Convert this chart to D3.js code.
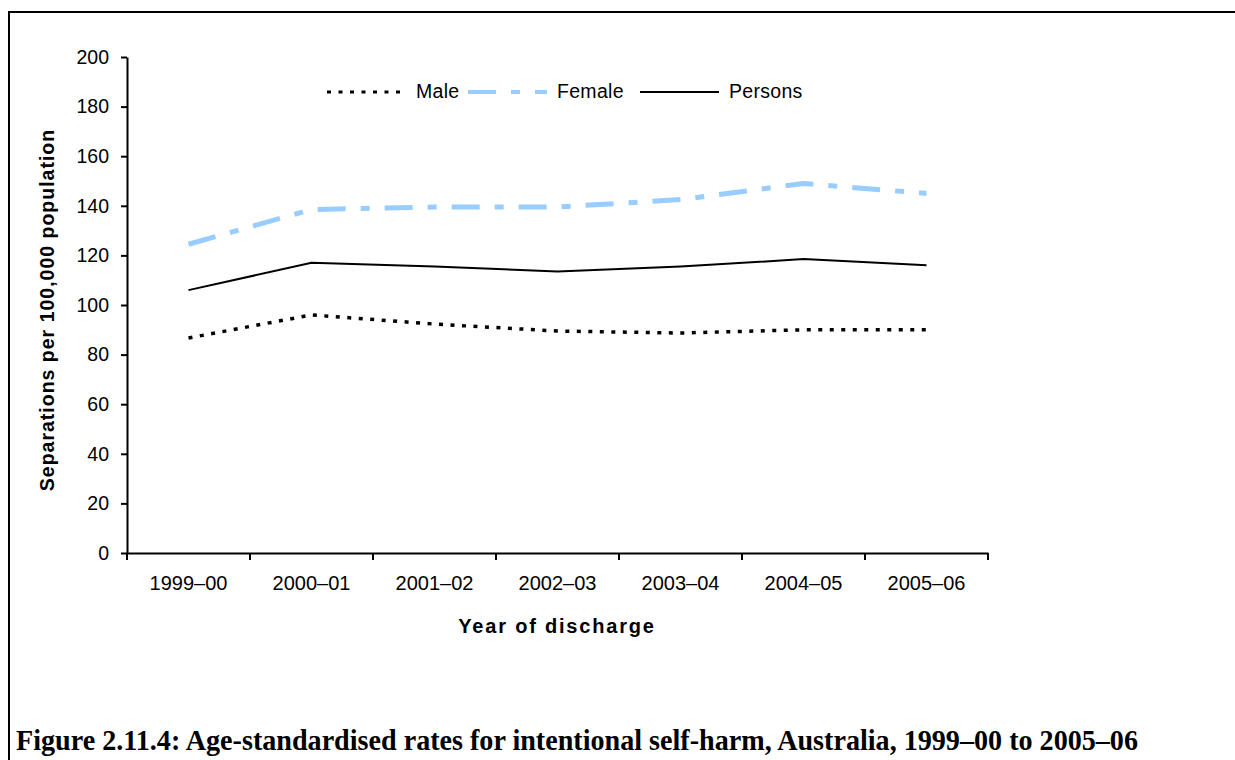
<!DOCTYPE html>
<html>
<head>
<meta charset="utf-8">
<script src="https://cdn.jsdelivr.net/npm/d3@7"></script>
<style>
  body { margin: 0; background: #fff; }
  text { font-family: "Liberation Sans", Arial, sans-serif; }
</style>
</head>
<body>
<div id="chart"></div>
<script>
const years = ['1999–00', '2000–01', '2001–02', '2002–03', '2003–04', '2004–05', '2005–06'];
const male = [86.7, 96, 92.3, 89.5, 88.7, 90, 90];
const female = [124.5, 138.5, 139.5, 139.5, 142.5, 149, 145];
const persons = [106, 117, 115.5, 113.5, 115.5, 118.5, 116];
const yTicks = [0, 20, 40, 60, 80, 100, 120, 140, 160, 180, 200];

const width = 1235;
const height = 760;

const svg = d3.select('#chart')
  .append('svg')
  .attr('width', width)
  .attr('height', height)

// frame round the figure (runs off the right and bottom)
svg.append('rect')
   .attr('x', 9)
   .attr('y', 12)
   .attr('width', 1300)
   .attr('height', 800)
   .style('fill', 'none')
   .style('stroke', '#000')
   .style('stroke-width', 2)

const xScale = d3.scaleBand()
                 .domain(years)
                 .range([127, 988])
                 .padding(0)

const yScale = d3.scaleLinear()
                 .domain([0, 200])
                 .range([553, 57])

const cx = (d, i) => xScale(years[i]) + xScale.bandwidth() / 2;

// y axis
const yAxis = d3.axisLeft(yScale).tickValues(yTicks).tickSize(6).tickPadding(12).tickSizeOuter(0);
const gy = svg.append('g')
   .attr('transform', 'translate(127, 0)')
   .call(yAxis)
gy.select('.domain').style('stroke-width', 2)
gy.selectAll('.tick line').style('stroke-width', 2)
gy.selectAll('.tick text').style('font-size', '19.5px').style('fill', '#000')

// x axis: labels centred in bands, ticks on band edges
const xAxis = d3.axisBottom(xScale).tickSize(0).tickPadding(23).tickSizeOuter(0);
const gx = svg.append('g')
   .attr('transform', 'translate(0, 553)')
   .call(xAxis)
gx.select('.domain').style('stroke-width', 2)
gx.selectAll('.tick text').style('font-size', '20px').style('fill', '#000')

const edges = years.map(y => xScale(y)).concat([xScale.range()[1]]);
gx.selectAll('.edge')
  .data(edges)
  .enter()
  .append('line')
  .attr('x1', d => d)
  .attr('x2', d => d)
  .attr('y1', 0)
  .attr('y2', 7)
  .style('stroke', '#000')
  .style('stroke-width', 2)

// axis titles
svg.append('text')
   .text('Year of discharge')
   .attr('x', 557)
   .attr('y', 633)
   .attr('text-anchor', 'middle')
   .style('font-size', '20px')
   .style('font-weight', 'bold')
   .style('letter-spacing', '1.8px')

svg.append('text')
   .text('Separations per 100,000 population')
   .attr('transform', 'translate(54, 310) rotate(-90)')
   .attr('text-anchor', 'middle')
   .style('font-size', '19.5px')
   .style('font-weight', 'bold')
   .style('letter-spacing', '1px')

// series
const series = [
  { name: 'Male', values: male, color: '#000', width: 3.5, dash: '4,7.5' },
  { name: 'Female', values: female, color: '#99ccff', width: 5, dash: '28,15,9,15' },
  { name: 'Persons', values: persons, color: '#000', width: 2, dash: null }
];

const line = d3.line()
  .x(cx)
  .y(d => yScale(d))

series.forEach(s => {
  svg.append('path')
     .datum(s.values)
     .attr('d', line)
     .style('fill', 'none')
     .style('stroke', s.color)
     .style('stroke-width', s.width)
     .style('stroke-dasharray', s.dash)
})

// legend
const legendX = [327, 468, 640];
series.forEach((s, i) => {
  svg.append('line')
     .attr('x1', legendX[i])
     .attr('x2', legendX[i] + 79)
     .attr('y1', 92)
     .attr('y2', 92)
     .style('stroke', s.color)
     .style('stroke-width', s.name === 'Female' ? 4 : s.width === 3.5 ? 3 : 2)
     .style('stroke-dasharray', s.dash)
  svg.append('text')
     .text(s.name)
     .attr('x', legendX[i] + 89)
     .attr('y', 98)
     .style('font-size', '19.5px')
     .style('letter-spacing', '0.3px')
})

// caption
svg.append('text')
   .text('Figure 2.11.4: Age-standardised rates for intentional self-harm, Australia, 1999–00 to 2005–06')
   .attr('x', 16)
   .attr('y', 750)
   .attr('textLength', 1122)
   .attr('lengthAdjust', 'spacingAndGlyphs')
   .style('font-family', '"Liberation Serif", "DejaVu Serif", serif')
   .style('font-size', '29px')
   .style('font-weight', 'bold')
</script>
</body>
</html>
